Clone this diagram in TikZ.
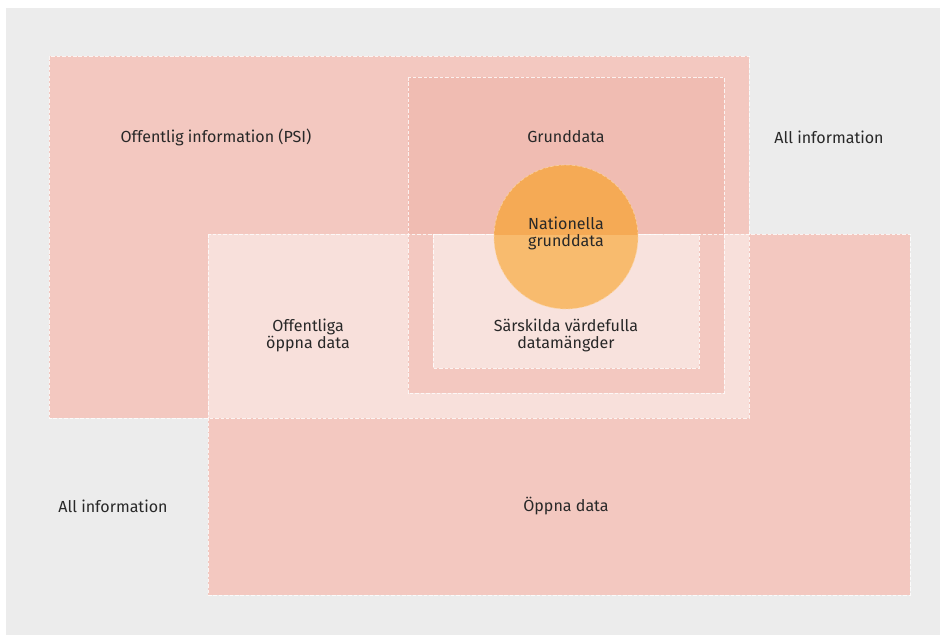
\documentclass[tikz,border=0pt]{standalone}
\usepackage{fontspec}
\setmainfont{Fira Sans}
\definecolor{bgGray}{RGB}{236,236,236}
\definecolor{psiFill}{RGB}{243,200,192}
\definecolor{openFill}{RGB}{248,224,219}
\definecolor{baseFill}{RGB}{240,188,178}
\definecolor{valFill}{RGB}{248,226,221}
\definecolor{natTop}{RGB}{245,170,85}
\definecolor{natBot}{RGB}{248,187,110}
\definecolor{txtGray}{RGB}{40,40,40}

\tikzstyle{tS}=[align=center, inner sep = 0pt, font=\fontsize{13.7}{14.5}\selectfont, text=txtGray]
\tikzstyle{bS}=[draw=white, line width=0.6pt, dash pattern=on 3pt off 1.6pt, draw opacity=0.8]

\begin{document}
\begin{tikzpicture}[x=0.03cm, y=-0.03cm]%[1px = 0.03cm]
                \useasboundingbox (0,0) rectangle (940,635);
                \fill[white] (0,0) rectangle (940,635);
                \fill[bgGray] (6,8) rectangle (940,635);
                % fields
                \fill[psiFill] (49,56) rectangle (749,418);
                \fill[psiFill] (208,234) rectangle (910,595);
                \fill[openFill] (208,234) rectangle (749,418);
                \fill[baseFill] (408,77) rectangle (724,234);
                \fill[psiFill] (408,234) rectangle (724,393);
                \fill[valFill] (433,234) rectangle (699,368);
                \draw[bS] (49,56) rectangle (749,418);
                \draw[bS] (208,234) rectangle (910,595);
                \draw[bS] (408,77) rectangle (724,393);
                \draw[bS] (433,234) rectangle (699,368);
                % circle
                \fill[natBot] (566,237) circle (72);
                \begin{scope}
                    \clip (408,77) rectangle (724,234);
                    \fill[natTop] (566,237) circle (72);
                \end{scope}
                \draw[bS, draw=natBot!60!white] (566,237) circle (72);
                % labels
                \draw (216,137) node[tS] (psi) {Offentlig information (PSI)};
                \draw (566,137) node[tS] (grund) {Grunddata};
                \draw (829,137) node[tS] (allA) {All information};
                \draw (566,233) node[tS] (nat) {Nationella\\grunddata};
                \draw (308,335) node[tS] (ood) {Offentliga\\öppna data};
                \draw (566,335) node[tS] (svd) {Särskilda värdefulla\\datamängder};
                \draw (113,506) node[tS] (allB) {All information};
                \draw (566,506) node[tS] (oppna) {Öppna data};
        \end{tikzpicture}
\end{document}
